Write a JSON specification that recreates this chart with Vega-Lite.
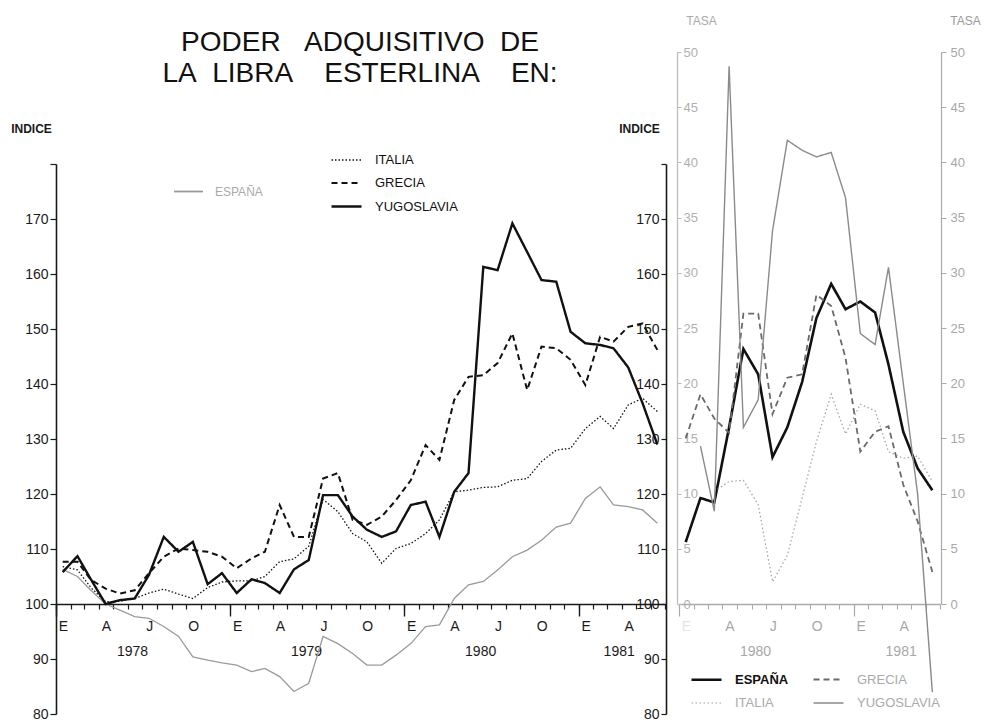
{
"$schema": "https://vega.github.io/schema/vega-lite/v6.json",
"width": 884, "height": 662,
"autosize": "none",
"padding": {"left": 56, "top": 52, "right": 45, "bottom": 6},
"background": "white",
"config": {"view": {"stroke": null}, "font": "Liberation Sans", "axis": {"labelFont": "Liberation Sans", "titleFont": "Liberation Sans", "grid": false}, "legend": {"labelFont": "Liberation Sans"}},
"title": {"text": ["PODER\u00a0\u00a0\u00a0ADQUISITIVO\u00a0\u00a0DE", "LA\u00a0\u00a0LIBRA\u00a0\u00a0\u00a0\u00a0ESTERLINA\u00a0\u00a0\u00a0\u00a0EN:"], "anchor": "middle", "frame": "group", "dx": -138, "dy": 74, "offset": 0, "fontSize": 28, "font": "Liberation Sans", "fontWeight": "normal", "color": "#111", "lineHeight": 31},
"datasets": {
"indice": [
{"pais":"YUGOSLAVIA","fecha":"1978-01-15","valor":105.8},{"pais":"YUGOSLAVIA","fecha":"1978-02-15","valor":108.7},{"pais":"YUGOSLAVIA","fecha":"1978-03-15","valor":104.5},{"pais":"YUGOSLAVIA","fecha":"1978-04-15","valor":100.0},{"pais":"YUGOSLAVIA","fecha":"1978-05-15","valor":100.7},{"pais":"YUGOSLAVIA","fecha":"1978-06-15","valor":101.0},{"pais":"YUGOSLAVIA","fecha":"1978-07-15","valor":105.3},{"pais":"YUGOSLAVIA","fecha":"1978-08-15","valor":112.2},{"pais":"YUGOSLAVIA","fecha":"1978-09-15","valor":109.5},{"pais":"YUGOSLAVIA","fecha":"1978-10-15","valor":111.3},{"pais":"YUGOSLAVIA","fecha":"1978-11-15","valor":103.6},{"pais":"YUGOSLAVIA","fecha":"1978-12-15","valor":105.6},
{"pais":"YUGOSLAVIA","fecha":"1979-01-15","valor":102.0},{"pais":"YUGOSLAVIA","fecha":"1979-02-15","valor":104.5},{"pais":"YUGOSLAVIA","fecha":"1979-03-15","valor":103.8},{"pais":"YUGOSLAVIA","fecha":"1979-04-15","valor":102.0},{"pais":"YUGOSLAVIA","fecha":"1979-05-15","valor":106.3},{"pais":"YUGOSLAVIA","fecha":"1979-06-15","valor":108.0},{"pais":"YUGOSLAVIA","fecha":"1979-07-15","valor":119.8},{"pais":"YUGOSLAVIA","fecha":"1979-08-15","valor":119.8},{"pais":"YUGOSLAVIA","fecha":"1979-09-15","valor":115.9},{"pais":"YUGOSLAVIA","fecha":"1979-10-15","valor":113.5},{"pais":"YUGOSLAVIA","fecha":"1979-11-15","valor":112.2},{"pais":"YUGOSLAVIA","fecha":"1979-12-15","valor":113.2},
{"pais":"YUGOSLAVIA","fecha":"1980-01-15","valor":118.0},{"pais":"YUGOSLAVIA","fecha":"1980-02-15","valor":118.6},{"pais":"YUGOSLAVIA","fecha":"1980-03-15","valor":112.2},{"pais":"YUGOSLAVIA","fecha":"1980-04-15","valor":120.4},{"pais":"YUGOSLAVIA","fecha":"1980-05-15","valor":123.8},{"pais":"YUGOSLAVIA","fecha":"1980-06-15","valor":161.3},{"pais":"YUGOSLAVIA","fecha":"1980-07-15","valor":160.7},{"pais":"YUGOSLAVIA","fecha":"1980-08-15","valor":169.2},{"pais":"YUGOSLAVIA","fecha":"1980-09-15","valor":164.0},{"pais":"YUGOSLAVIA","fecha":"1980-10-15","valor":158.9},{"pais":"YUGOSLAVIA","fecha":"1980-11-15","valor":158.6},{"pais":"YUGOSLAVIA","fecha":"1980-12-15","valor":149.5},
{"pais":"YUGOSLAVIA","fecha":"1981-01-15","valor":147.4},{"pais":"YUGOSLAVIA","fecha":"1981-02-15","valor":147.1},{"pais":"YUGOSLAVIA","fecha":"1981-03-15","valor":146.5},{"pais":"YUGOSLAVIA","fecha":"1981-04-15","valor":143.0},{"pais":"YUGOSLAVIA","fecha":"1981-05-15","valor":136.5},{"pais":"YUGOSLAVIA","fecha":"1981-06-15","valor":129.0},
{"pais":"GRECIA","fecha":"1978-01-15","valor":107.7},{"pais":"GRECIA","fecha":"1978-02-15","valor":107.7},{"pais":"GRECIA","fecha":"1978-03-15","valor":104.4},{"pais":"GRECIA","fecha":"1978-04-15","valor":102.8},{"pais":"GRECIA","fecha":"1978-05-15","valor":101.9},{"pais":"GRECIA","fecha":"1978-06-15","valor":102.5},{"pais":"GRECIA","fecha":"1978-07-15","valor":105.6},{"pais":"GRECIA","fecha":"1978-08-15","valor":108.6},{"pais":"GRECIA","fecha":"1978-09-15","valor":110.1},{"pais":"GRECIA","fecha":"1978-10-15","valor":109.8},{"pais":"GRECIA","fecha":"1978-11-15","valor":109.5},{"pais":"GRECIA","fecha":"1978-12-15","valor":108.6},
{"pais":"GRECIA","fecha":"1979-01-15","valor":106.5},{"pais":"GRECIA","fecha":"1979-02-15","valor":108.3},{"pais":"GRECIA","fecha":"1979-03-15","valor":109.5},{"pais":"GRECIA","fecha":"1979-04-15","valor":118.0},{"pais":"GRECIA","fecha":"1979-05-15","valor":112.2},{"pais":"GRECIA","fecha":"1979-06-15","valor":112.2},{"pais":"GRECIA","fecha":"1979-07-15","valor":122.8},{"pais":"GRECIA","fecha":"1979-08-15","valor":123.8},{"pais":"GRECIA","fecha":"1979-09-15","valor":115.3},{"pais":"GRECIA","fecha":"1979-10-15","valor":114.4},{"pais":"GRECIA","fecha":"1979-11-15","valor":115.9},{"pais":"GRECIA","fecha":"1979-12-15","valor":118.9},
{"pais":"GRECIA","fecha":"1980-01-15","valor":122.5},{"pais":"GRECIA","fecha":"1980-02-15","valor":128.9},{"pais":"GRECIA","fecha":"1980-03-15","valor":126.2},{"pais":"GRECIA","fecha":"1980-04-15","valor":137.1},{"pais":"GRECIA","fecha":"1980-05-15","valor":141.3},{"pais":"GRECIA","fecha":"1980-06-15","valor":141.6},{"pais":"GRECIA","fecha":"1980-07-15","valor":143.8},{"pais":"GRECIA","fecha":"1980-08-15","valor":149.2},{"pais":"GRECIA","fecha":"1980-09-15","valor":138.9},{"pais":"GRECIA","fecha":"1980-10-15","valor":146.8},{"pais":"GRECIA","fecha":"1980-11-15","valor":146.5},{"pais":"GRECIA","fecha":"1980-12-15","valor":144.4},
{"pais":"GRECIA","fecha":"1981-01-15","valor":139.8},{"pais":"GRECIA","fecha":"1981-02-15","valor":148.6},{"pais":"GRECIA","fecha":"1981-03-15","valor":147.7},{"pais":"GRECIA","fecha":"1981-04-15","valor":150.4},{"pais":"GRECIA","fecha":"1981-05-15","valor":151.0},{"pais":"GRECIA","fecha":"1981-06-15","valor":146.2},
{"pais":"ITALIA","fecha":"1978-01-15","valor":106.8},{"pais":"ITALIA","fecha":"1978-02-15","valor":106.2},{"pais":"ITALIA","fecha":"1978-03-15","valor":103.0},{"pais":"ITALIA","fecha":"1978-04-15","valor":100.4},{"pais":"ITALIA","fecha":"1978-05-15","valor":100.5},{"pais":"ITALIA","fecha":"1978-06-15","valor":101.0},{"pais":"ITALIA","fecha":"1978-07-15","valor":102.0},{"pais":"ITALIA","fecha":"1978-08-15","valor":102.7},{"pais":"ITALIA","fecha":"1978-09-15","valor":101.8},{"pais":"ITALIA","fecha":"1978-10-15","valor":101.0},{"pais":"ITALIA","fecha":"1978-11-15","valor":103.0},{"pais":"ITALIA","fecha":"1978-12-15","valor":104.0},
{"pais":"ITALIA","fecha":"1979-01-15","valor":104.2},{"pais":"ITALIA","fecha":"1979-02-15","valor":104.2},{"pais":"ITALIA","fecha":"1979-03-15","valor":105.0},{"pais":"ITALIA","fecha":"1979-04-15","valor":107.7},{"pais":"ITALIA","fecha":"1979-05-15","valor":108.2},{"pais":"ITALIA","fecha":"1979-06-15","valor":110.5},{"pais":"ITALIA","fecha":"1979-07-15","valor":119.0},{"pais":"ITALIA","fecha":"1979-08-15","valor":116.8},{"pais":"ITALIA","fecha":"1979-09-15","valor":112.8},{"pais":"ITALIA","fecha":"1979-10-15","valor":111.3},{"pais":"ITALIA","fecha":"1979-11-15","valor":107.4},{"pais":"ITALIA","fecha":"1979-12-15","valor":110.1},
{"pais":"ITALIA","fecha":"1980-01-15","valor":111.0},{"pais":"ITALIA","fecha":"1980-02-15","valor":112.8},{"pais":"ITALIA","fecha":"1980-03-15","valor":115.3},{"pais":"ITALIA","fecha":"1980-04-15","valor":120.4},{"pais":"ITALIA","fecha":"1980-05-15","valor":120.7},{"pais":"ITALIA","fecha":"1980-06-15","valor":121.2},{"pais":"ITALIA","fecha":"1980-07-15","valor":121.3},{"pais":"ITALIA","fecha":"1980-08-15","valor":122.5},{"pais":"ITALIA","fecha":"1980-09-15","valor":122.8},{"pais":"ITALIA","fecha":"1980-10-15","valor":125.9},{"pais":"ITALIA","fecha":"1980-11-15","valor":128.0},{"pais":"ITALIA","fecha":"1980-12-15","valor":128.3},
{"pais":"ITALIA","fecha":"1981-01-15","valor":131.9},{"pais":"ITALIA","fecha":"1981-02-15","valor":134.1},{"pais":"ITALIA","fecha":"1981-03-15","valor":131.9},{"pais":"ITALIA","fecha":"1981-04-15","valor":136.2},{"pais":"ITALIA","fecha":"1981-05-15","valor":137.4},{"pais":"ITALIA","fecha":"1981-06-15","valor":135.0},
{"pais":"ESPAÑA","fecha":"1978-01-15","valor":106.3},{"pais":"ESPAÑA","fecha":"1978-02-15","valor":105.0},{"pais":"ESPAÑA","fecha":"1978-03-15","valor":102.5},{"pais":"ESPAÑA","fecha":"1978-04-15","valor":100.0},{"pais":"ESPAÑA","fecha":"1978-05-15","valor":98.9},{"pais":"ESPAÑA","fecha":"1978-06-15","valor":97.7},{"pais":"ESPAÑA","fecha":"1978-07-15","valor":97.4},{"pais":"ESPAÑA","fecha":"1978-08-15","valor":95.9},{"pais":"ESPAÑA","fecha":"1978-09-15","valor":94.1},{"pais":"ESPAÑA","fecha":"1978-10-15","valor":90.4},{"pais":"ESPAÑA","fecha":"1978-11-15","valor":89.8},{"pais":"ESPAÑA","fecha":"1978-12-15","valor":89.3},
{"pais":"ESPAÑA","fecha":"1979-01-15","valor":88.9},{"pais":"ESPAÑA","fecha":"1979-02-15","valor":87.7},{"pais":"ESPAÑA","fecha":"1979-03-15","valor":88.3},{"pais":"ESPAÑA","fecha":"1979-04-15","valor":86.8},{"pais":"ESPAÑA","fecha":"1979-05-15","valor":84.1},{"pais":"ESPAÑA","fecha":"1979-06-15","valor":85.6},{"pais":"ESPAÑA","fecha":"1979-07-15","valor":94.1},{"pais":"ESPAÑA","fecha":"1979-08-15","valor":92.8},{"pais":"ESPAÑA","fecha":"1979-09-15","valor":91.0},{"pais":"ESPAÑA","fecha":"1979-10-15","valor":88.9},{"pais":"ESPAÑA","fecha":"1979-11-15","valor":88.9},{"pais":"ESPAÑA","fecha":"1979-12-15","valor":90.7},
{"pais":"ESPAÑA","fecha":"1980-01-15","valor":92.8},{"pais":"ESPAÑA","fecha":"1980-02-15","valor":95.9},{"pais":"ESPAÑA","fecha":"1980-03-15","valor":96.2},{"pais":"ESPAÑA","fecha":"1980-04-15","valor":101.0},{"pais":"ESPAÑA","fecha":"1980-05-15","valor":103.5},{"pais":"ESPAÑA","fecha":"1980-06-15","valor":104.1},{"pais":"ESPAÑA","fecha":"1980-07-15","valor":106.2},{"pais":"ESPAÑA","fecha":"1980-08-15","valor":108.6},{"pais":"ESPAÑA","fecha":"1980-09-15","valor":109.8},{"pais":"ESPAÑA","fecha":"1980-10-15","valor":111.6},{"pais":"ESPAÑA","fecha":"1980-11-15","valor":114.0},{"pais":"ESPAÑA","fecha":"1980-12-15","valor":114.7},
{"pais":"ESPAÑA","fecha":"1981-01-15","valor":119.2},{"pais":"ESPAÑA","fecha":"1981-02-15","valor":121.3},{"pais":"ESPAÑA","fecha":"1981-03-15","valor":118.0},{"pais":"ESPAÑA","fecha":"1981-04-15","valor":117.7},{"pais":"ESPAÑA","fecha":"1981-05-15","valor":117.1},{"pais":"ESPAÑA","fecha":"1981-06-15","valor":114.7}
],
"tasa": [
{"pais":"ESPAÑA","fecha":"1980-01-15","valor":5.6},{"pais":"ESPAÑA","fecha":"1980-02-15","valor":9.6},{"pais":"ESPAÑA","fecha":"1980-03-15","valor":9.2},{"pais":"ESPAÑA","fecha":"1980-04-15","valor":16.0},{"pais":"ESPAÑA","fecha":"1980-05-15","valor":23.1},{"pais":"ESPAÑA","fecha":"1980-06-15","valor":20.8},{"pais":"ESPAÑA","fecha":"1980-07-15","valor":13.3},{"pais":"ESPAÑA","fecha":"1980-08-15","valor":16.0},{"pais":"ESPAÑA","fecha":"1980-09-15","valor":20.1},{"pais":"ESPAÑA","fecha":"1980-10-15","valor":25.9},{"pais":"ESPAÑA","fecha":"1980-11-15","valor":29.0},{"pais":"ESPAÑA","fecha":"1980-12-15","valor":26.7},{"pais":"ESPAÑA","fecha":"1981-01-15","valor":27.4},{"pais":"ESPAÑA","fecha":"1981-02-15","valor":26.4},{"pais":"ESPAÑA","fecha":"1981-03-15","valor":21.7},{"pais":"ESPAÑA","fecha":"1981-04-15","valor":15.6},{"pais":"ESPAÑA","fecha":"1981-05-15","valor":12.3},{"pais":"ESPAÑA","fecha":"1981-06-15","valor":10.3},
{"pais":"GRECIA","fecha":"1980-01-15","valor":15.0},{"pais":"GRECIA","fecha":"1980-02-15","valor":19.0},{"pais":"GRECIA","fecha":"1980-03-15","valor":16.8},{"pais":"GRECIA","fecha":"1980-04-15","valor":15.5},{"pais":"GRECIA","fecha":"1980-05-15","valor":26.3},{"pais":"GRECIA","fecha":"1980-06-15","valor":26.3},{"pais":"GRECIA","fecha":"1980-07-15","valor":17.2},{"pais":"GRECIA","fecha":"1980-08-15","valor":20.5},{"pais":"GRECIA","fecha":"1980-09-15","valor":20.8},{"pais":"GRECIA","fecha":"1980-10-15","valor":28.0},{"pais":"GRECIA","fecha":"1980-11-15","valor":27.0},{"pais":"GRECIA","fecha":"1980-12-15","valor":22.3},{"pais":"GRECIA","fecha":"1981-01-15","valor":13.8},{"pais":"GRECIA","fecha":"1981-02-15","valor":15.6},{"pais":"GRECIA","fecha":"1981-03-15","valor":16.1},{"pais":"GRECIA","fecha":"1981-04-15","valor":10.8},{"pais":"GRECIA","fecha":"1981-05-15","valor":7.5},{"pais":"GRECIA","fecha":"1981-06-15","valor":2.9},
{"pais":"ITALIA","fecha":"1980-03-15","valor":10.2},{"pais":"ITALIA","fecha":"1980-04-15","valor":11.1},{"pais":"ITALIA","fecha":"1980-05-15","valor":11.2},{"pais":"ITALIA","fecha":"1980-06-15","valor":9.0},{"pais":"ITALIA","fecha":"1980-07-15","valor":2.0},{"pais":"ITALIA","fecha":"1980-08-15","valor":4.4},{"pais":"ITALIA","fecha":"1980-09-15","valor":9.6},{"pais":"ITALIA","fecha":"1980-10-15","valor":14.7},{"pais":"ITALIA","fecha":"1980-11-15","valor":19.0},{"pais":"ITALIA","fecha":"1980-12-15","valor":15.4},{"pais":"ITALIA","fecha":"1981-01-15","valor":18.1},{"pais":"ITALIA","fecha":"1981-02-15","valor":17.5},{"pais":"ITALIA","fecha":"1981-03-15","valor":13.8},{"pais":"ITALIA","fecha":"1981-04-15","valor":13.2},{"pais":"ITALIA","fecha":"1981-05-15","valor":13.4},{"pais":"ITALIA","fecha":"1981-06-15","valor":11.1},
{"pais":"YUGOSLAVIA","fecha":"1980-02-15","valor":14.3},{"pais":"YUGOSLAVIA","fecha":"1980-03-15","valor":8.4},{"pais":"YUGOSLAVIA","fecha":"1980-04-15","valor":48.7},{"pais":"YUGOSLAVIA","fecha":"1980-05-15","valor":16.0},{"pais":"YUGOSLAVIA","fecha":"1980-06-15","valor":18.5},{"pais":"YUGOSLAVIA","fecha":"1980-07-15","valor":33.8},{"pais":"YUGOSLAVIA","fecha":"1980-08-15","valor":42.0},{"pais":"YUGOSLAVIA","fecha":"1980-09-15","valor":41.1},{"pais":"YUGOSLAVIA","fecha":"1980-10-15","valor":40.5},{"pais":"YUGOSLAVIA","fecha":"1980-11-15","valor":40.9},{"pais":"YUGOSLAVIA","fecha":"1980-12-15","valor":36.8},{"pais":"YUGOSLAVIA","fecha":"1981-01-15","valor":24.5},{"pais":"YUGOSLAVIA","fecha":"1981-02-15","valor":23.5},{"pais":"YUGOSLAVIA","fecha":"1981-03-15","valor":30.5},{"pais":"YUGOSLAVIA","fecha":"1981-04-15","valor":20.0},{"pais":"YUGOSLAVIA","fecha":"1981-05-15","valor":10.0},{"pais":"YUGOSLAVIA","fecha":"1981-06-15","valor":-8.0}
]
},
"layer": [
{
 "data": {"name": "indice"},
 "layer": [
  {
   "transform": [{"filter": "datum.pais == 'ESPAÑA'"}],
   "mark": {"type": "line", "strokeWidth": 1.3},
   "encoding": {
    "x": {"field": "fecha", "type": "temporal", "scale": {"type": "utc", "domain": [{"year": 1978, "month": 1, "date": 1, "utc": true}, {"year": 1981, "month": 7, "date": 1, "utc": true}], "range": [0, 609], "nice": false},
     "axis": {"orient": "bottom", "offset": -110, "title": null, "grid": false, "tickCount": {"interval": "month", "step": 1}, "labelExpr": "utcyear(datum.value)==1981 && utcmonth(datum.value)==6 ? '' : utcmonth(datum.value)==0?'E':utcmonth(datum.value)==3?'A':utcmonth(datum.value)==6?'J':utcmonth(datum.value)==9?'O':''", "labelAlign": "center", "labelOffset": 7, "labelPadding": 10, "labelFontSize": 14, "labelColor": "#1a1a1a", "labelOverlap": false, "labelFlush": false, "labelBound": false, "tickSize": 5, "tickWidth": 1.2, "tickColor": "#1a1a1a", "domainColor": "#1a1a1a", "domainWidth": 1.6}},
    "y": {"field": "valor", "type": "quantitative", "scale": {"domain": [80, 180], "range": [662, 112], "nice": false, "zero": false},
     "axis": {"orient": "left", "offset": 0, "values": [80, 90, 100, 110, 120, 130, 140, 150, 160, 170, 180], "labelExpr": "datum.value==180?'':datum.label", "title": "INDICE", "titleAngle": 0, "titleX": -25, "titleY": 76, "titleAlign": "center", "titleBaseline": "middle", "titleFontSize": 12, "titleFontWeight": "bold", "titleColor": "#1a1a1a", "labelFontSize": 14, "labelColor": "#1a1a1a", "labelPadding": 2, "tickSize": 6, "tickColor": "#1a1a1a", "tickWidth": 1.2, "domainColor": "#1a1a1a", "domainWidth": 1.6, "grid": false}},
    "color": {"field": "pais", "type": "nominal", "scale": {"domain": ["ESPAÑA"], "range": ["#9a9a9a"]},
     "legend": {"orient": "none", "legendX": 117, "legendY": 124, "title": null, "symbolType": "stroke", "symbolSize": 841, "symbolStrokeWidth": 1.8, "labelFontSize": 12, "labelColor": "#aaaaaa", "labelOffset": 11, "padding": 0}}
   }
  },
  {
   "transform": [{"filter": "datum.pais != 'ESPAÑA'"}],
   "mark": {"type": "line", "color": "#111111"},
   "encoding": {
    "x": {"field": "fecha", "type": "temporal", "scale": {"type": "utc", "domain": [{"year": 1978, "month": 1, "date": 1, "utc": true}, {"year": 1981, "month": 7, "date": 1, "utc": true}], "range": [0, 609], "nice": false},
     "axis": {"orient": "bottom", "offset": -110, "title": null, "grid": false, "tickCount": {"interval": "month", "step": 1}, "labelExpr": "utcyear(datum.value)==1981 && utcmonth(datum.value)==6 ? '' : utcmonth(datum.value)==0?'E':utcmonth(datum.value)==3?'A':utcmonth(datum.value)==6?'J':utcmonth(datum.value)==9?'O':''", "labelAlign": "center", "labelOffset": 7, "labelPadding": 10, "labelFontSize": 14, "labelColor": "#1a1a1a", "labelOverlap": false, "labelFlush": false, "labelBound": false, "tickSize": 5, "tickWidth": 1.2, "tickColor": "#1a1a1a", "domainColor": "#1a1a1a", "domainWidth": 1.6}},
    "y": {"field": "valor", "type": "quantitative", "scale": {"domain": [80, 180], "range": [662, 112], "nice": false, "zero": false},
     "axis": {"orient": "left", "offset": 0, "values": [80, 90, 100, 110, 120, 130, 140, 150, 160, 170, 180], "labelExpr": "datum.value==180?'':datum.label", "title": "INDICE", "titleAngle": 0, "titleX": -25, "titleY": 76, "titleAlign": "center", "titleBaseline": "middle", "titleFontSize": 12, "titleFontWeight": "bold", "titleColor": "#1a1a1a", "labelFontSize": 14, "labelColor": "#1a1a1a", "labelPadding": 2, "tickSize": 6, "tickColor": "#1a1a1a", "tickWidth": 1.2, "domainColor": "#1a1a1a", "domainWidth": 1.6, "grid": false}},
    "strokeDash": {"field": "pais", "type": "nominal", "scale": {"domain": ["ITALIA", "GRECIA", "YUGOSLAVIA"], "range": [[1.5, 2], [6, 4], [1, 0]]},
     "legend": {"orient": "none", "legendX": 274, "legendY": 92, "title": null, "symbolType": "stroke", "symbolSize": 900, "symbolStrokeColor": "#111111", "labelFontSize": 13, "labelColor": "#111111", "labelOffset": 12, "rowPadding": -3, "padding": 0}},
    "strokeWidth": {"field": "pais", "type": "nominal", "scale": {"type": "ordinal", "domain": ["ITALIA", "GRECIA", "YUGOSLAVIA"], "range": [1.3, 2.0, 2.4]},
     "legend": {"orient": "none", "legendX": 274, "legendY": 92, "title": null, "symbolType": "stroke", "symbolSize": 900, "symbolStrokeColor": "#111111", "labelFontSize": 13, "labelColor": "#111111", "labelOffset": 12, "rowPadding": -3, "padding": 0}}
   }
  }
 ]
},
{
 "data": {"name": "indice"},
 "mark": {"type": "point", "opacity": 0},
 "encoding": {
  "x": {"field": "fecha", "type": "temporal", "scale": {"type": "utc", "domain": [{"year": 1978, "month": 1, "date": 1, "utc": true}, {"year": 1981, "month": 7, "date": 1, "utc": true}], "range": [0, 609], "nice": false},
   "axis": {"orient": "bottom", "offset": -110, "title": null, "grid": false, "domain": false, "values": [{"year": 1978, "month": 1, "date": 1, "utc": true}, {"year": 1979, "month": 1, "date": 1, "utc": true}, {"year": 1980, "month": 1, "date": 1, "utc": true}, {"year": 1981, "month": 1, "date": 1, "utc": true}], "labelExpr": "'' + utcyear(datum.value)", "labelAlign": "center", "labelOffset": {"condition": {"test": "utcyear(datum.value)==1981", "value": 40}, "value": 76}, "labelPadding": 28, "labelFontSize": 14, "labelColor": "#1a1a1a", "labelOverlap": false, "labelFlush": false, "labelBound": false, "tickSize": 12, "tickWidth": 1.4, "tickColor": "#1a1a1a"}}
 }
},
{
 "data": {"name": "indice"},
 "mark": {"type": "point", "opacity": 0},
 "encoding": {
  "y": {"field": "valor", "type": "quantitative", "scale": {"domain": [80, 180], "range": [662, 112], "nice": false, "zero": false},
   "axis": {"orient": "left", "offset": -610, "values": [80, 90, 100, 110, 120, 130, 140, 150, 160, 170, 180], "labelExpr": "datum.value==180?'':datum.label", "title": "INDICE", "titleAngle": 0, "titleX": -27, "titleY": 76, "titleAlign": "center", "titleBaseline": "middle", "titleFontSize": 12, "titleFontWeight": "bold", "titleColor": "#1a1a1a", "labelFontSize": 14, "labelColor": "#1a1a1a", "labelPadding": 2, "tickSize": 5, "tickColor": "#1a1a1a", "tickWidth": 1.2, "domainColor": "#1a1a1a", "domainWidth": 1.6, "grid": false}}
 }
},
{
 "data": {"name": "tasa"},
 "mark": {"type": "line"},
 "encoding": {
  "x": {"field": "fecha", "type": "temporal", "scale": {"type": "utc", "domain": [{"year": 1980, "month": 1, "date": 1, "utc": true}, {"year": 1981, "month": 7, "date": 1, "utc": true}], "range": [623, 884], "nice": false},
   "axis": {"orient": "bottom", "offset": -110, "title": null, "grid": false, "tickCount": {"interval": "month", "step": 1}, "labelExpr": "utcyear(datum.value)==1981 && utcmonth(datum.value)==6 ? '' : utcmonth(datum.value)==0?'E':utcmonth(datum.value)==3?'A':utcmonth(datum.value)==6?'J':utcmonth(datum.value)==9?'O':''", "labelAlign": "center", "labelOffset": 7, "labelPadding": 10, "labelFontSize": 14, "labelColor": {"condition": {"test": "utcyear(datum.value)==1980 && utcmonth(datum.value)==0", "value": "#e4e4e4"}, "value": "#a8a8a8"}, "labelOverlap": false, "labelFlush": false, "labelBound": false, "tickSize": 5, "tickWidth": 1.1, "tickColor": "#aaaaaa", "domainColor": "#aaaaaa", "domainWidth": 1.3}},
  "y": {"field": "valor", "type": "quantitative", "scale": {"domain": [0, 50], "range": [552, 0], "nice": false, "zero": false},
   "axis": {"orient": "right", "offset": 1, "values": [0, 5, 10, 15, 20, 25, 30, 35, 40, 45, 50], "title": "TASA", "titleAngle": 0, "titleX": 24, "titleY": -32, "titleAlign": "center", "titleBaseline": "middle", "titleFontSize": 12, "titleFontWeight": "normal", "titleColor": "#999999", "labelFontSize": 13, "labelColor": "#a8a8a8", "labelPadding": 4, "tickSize": 5, "tickColor": "#aaaaaa", "domainColor": "#aaaaaa", "domainWidth": 1.2, "grid": false}},
  "color": {"field": "pais", "type": "nominal", "scale": {"domain": ["ESPAÑA", "ITALIA", "GRECIA", "YUGOSLAVIA"], "range": ["#111111", "#a0a0a0", "#6a6a6a", "#8a8a8a"]},
   "legend": {"orient": "none", "legendX": 634, "legendY": 611, "title": null, "columns": 2, "columnPadding": 20, "rowPadding": -3, "symbolType": "stroke", "symbolSize": 900, "labelFontSize": 13, "labelOffset": 12, "labelColor": {"expr": "datum.label == 'ESPAÑA' ? '#111111' : '#aaaaaa'"}, "labelFontWeight": {"expr": "datum.label == 'ESPAÑA' ? 'bold' : 'normal'"}, "padding": 0}},
  "strokeDash": {"field": "pais", "type": "nominal", "scale": {"domain": ["ESPAÑA", "ITALIA", "GRECIA", "YUGOSLAVIA"], "range": [[1, 0], [1.5, 2.5], [6, 4], [1, 0]]},
   "legend": {"orient": "none", "legendX": 634, "legendY": 611, "title": null, "columns": 2, "columnPadding": 20, "rowPadding": -3, "symbolType": "stroke", "symbolSize": 900, "labelFontSize": 13, "labelOffset": 12, "padding": 0}},
  "strokeWidth": {"field": "pais", "type": "nominal", "scale": {"type": "ordinal", "domain": ["ESPAÑA", "ITALIA", "GRECIA", "YUGOSLAVIA"], "range": [2.6, 1.2, 1.8, 1.4]},
   "legend": {"orient": "none", "legendX": 634, "legendY": 611, "title": null, "columns": 2, "columnPadding": 20, "rowPadding": -3, "symbolType": "stroke", "symbolSize": 900, "labelFontSize": 13, "labelOffset": 12, "padding": 0}}
 }
},
{
 "data": {"name": "tasa"},
 "mark": {"type": "point", "opacity": 0},
 "encoding": {
  "x": {"field": "fecha", "type": "temporal", "scale": {"type": "utc", "domain": [{"year": 1980, "month": 1, "date": 1, "utc": true}, {"year": 1981, "month": 7, "date": 1, "utc": true}], "range": [623, 884], "nice": false},
   "axis": {"orient": "bottom", "offset": -110, "title": null, "grid": false, "domain": false, "values": [{"year": 1980, "month": 1, "date": 1, "utc": true}, {"year": 1981, "month": 1, "date": 1, "utc": true}], "labelExpr": "'' + utcyear(datum.value)", "labelAlign": "center", "labelOffset": {"condition": {"test": "utcyear(datum.value)==1981", "value": 47}, "value": 76}, "labelPadding": 28, "labelFontSize": 14, "labelColor": "#a8a8a8", "labelOverlap": false, "labelFlush": false, "labelBound": false, "tickSize": 12, "tickWidth": 1.2, "tickColor": "#aaaaaa"}}
 }
},
{
 "data": {"name": "tasa"},
 "mark": {"type": "point", "opacity": 0},
 "encoding": {
  "y": {"field": "valor", "type": "quantitative", "scale": {"domain": [0, 50], "range": [552, 0], "nice": false, "zero": false},
   "axis": {"orient": "right", "offset": -263, "values": [0, 5, 10, 15, 20, 25, 30, 35, 40, 45, 50], "title": "TASA", "titleAngle": 0, "titleX": 24, "titleY": -32, "titleAlign": "center", "titleBaseline": "middle", "titleFontSize": 12, "titleFontWeight": "normal", "titleColor": "#aaaaaa", "labelFontSize": 13, "labelColor": "#b0b0b0", "labelPadding": 2, "tickSize": 4, "tickColor": "#bbbbbb", "domainColor": "#bbbbbb", "domainWidth": 1.2, "grid": false}}
 }
}
],
"resolve": {"scale": {"x": "independent", "y": "independent", "color": "independent", "strokeDash": "independent", "strokeWidth": "independent"}}
}
